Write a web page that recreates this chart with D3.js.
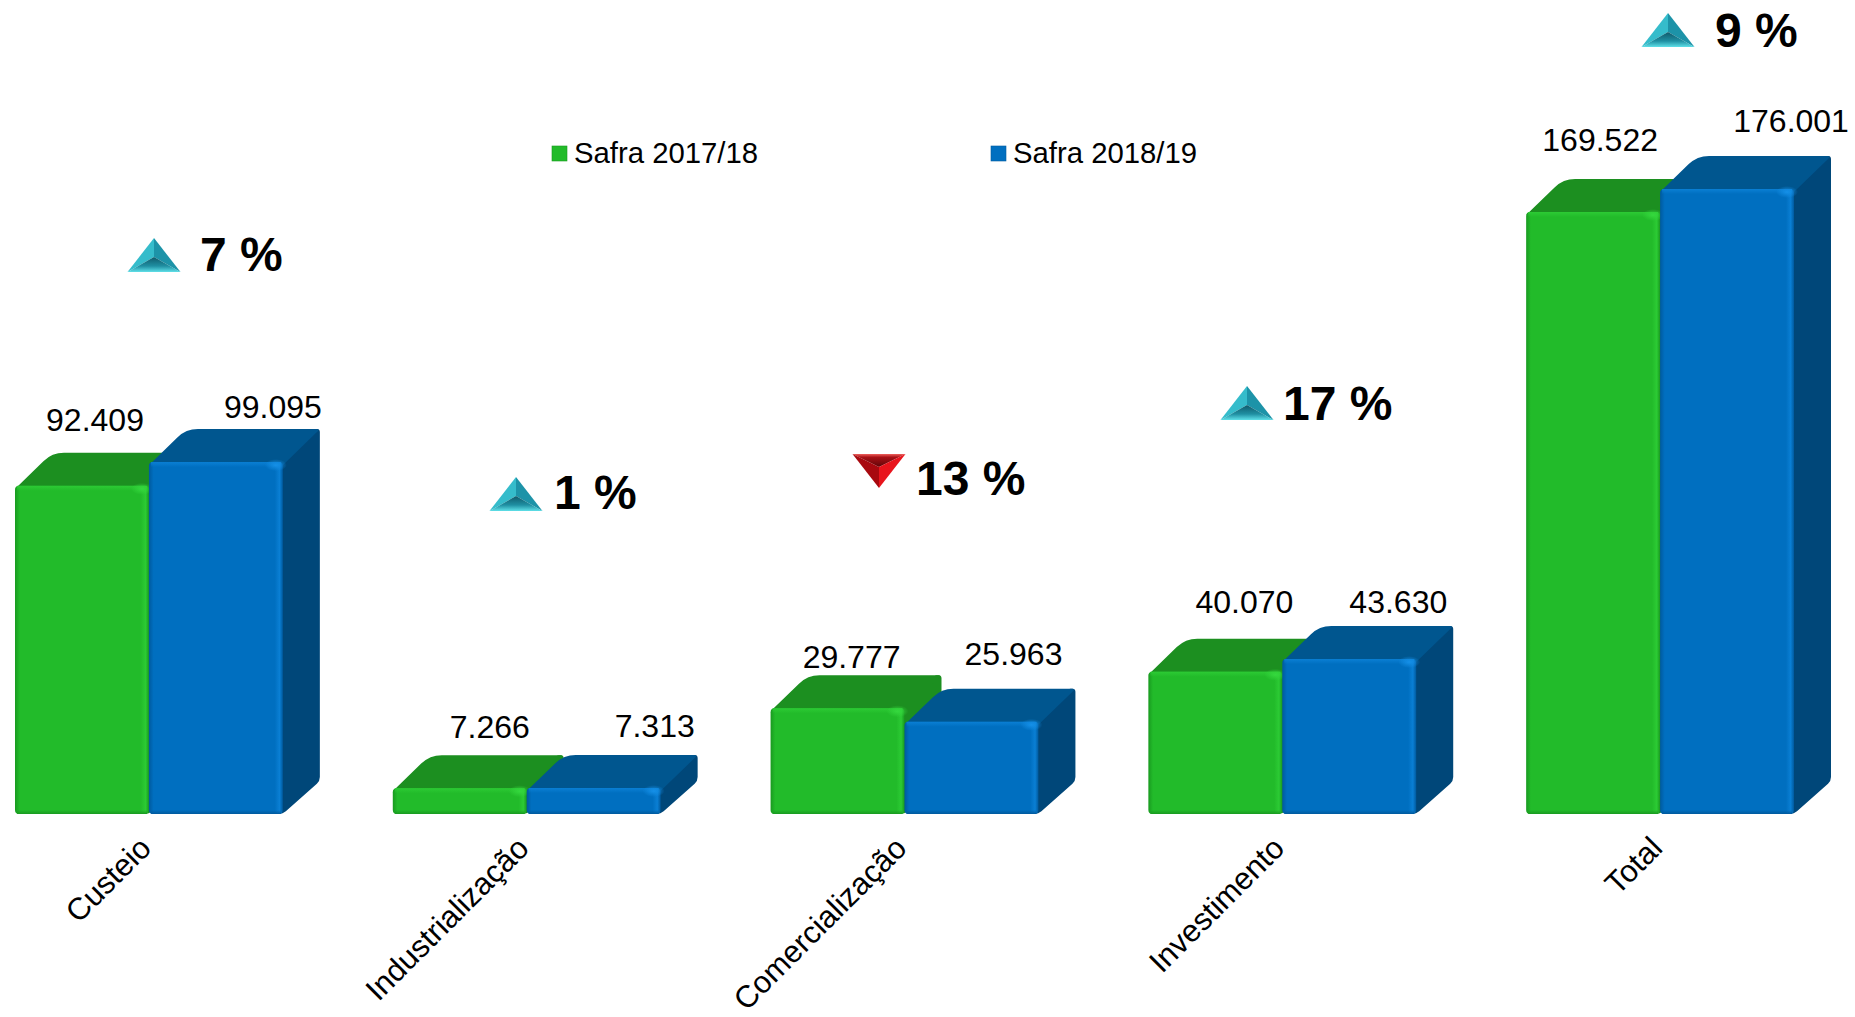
<!DOCTYPE html>
<html lang="pt">
<head>
  <meta charset="UTF-8">
  <title>Safra 2017/18 x 2018/19</title>
  <script src="https://d3js.org/d3.v7.min.js"></script>
  <style>
    html, body { margin: 0; padding: 0; background: #fff; }
    svg { display: block; font-family: "Liberation Sans", Arial, sans-serif; }
  </style>
</head>
<body>
  <div id="chart"></div>
  <script>
    const categories = ["Custeio", "Industrialização", "Comercialização", "Investimento", "Total"];
    const seriesNames = ["Safra 2017/18", "Safra 2018/19"];
    const safra1718 = [92409, 7266, 29777, 40070, 169522];
    const safra1819 = [99095, 7313, 25963, 43630, 176001];
    const changeLabels = ["7 %", "1 %", "13 %", "17 %", "9 %"];
    const changeDirection = ["up", "up", "down", "up", "up"];

    // hand placed annotations, the labels do not sit at a fixed offset from the bars
    const labelShift1718 = [[80, -55], [97, -50], [81, -40], [96, -59], [74, -61]];
    const labelShift1819 = [[124, -44], [128, -51], [109, -57], [116, -46], [131, -57]];
    const changeSpots = [[154, 272], [516, 511], [879, 488], [1247, 420], [1668, 47]];
    const changeTextShift = [[46, -1], [38, -2], [37, 7], [36, 0], [47, 0]];

    const width = 1855, height = 1017;
    const depthX = 37, depthY = 33;

    const palette = [
      {front: "#22bb2a", top: "#1c8f20", side: "#1c8f20", light: "#2ccb34", glow: "#35d83e", dark: "#199a20"},
      {front: "#006fc0", top: "#00568f", side: "#004779", light: "#0a7fd4", glow: "#1590e8", dark: "#005a9e"}
    ];

    const x = d3.scaleBand().domain(categories).range([15, 1794]).paddingInner(0.291).paddingOuter(0);
    const xSeries = d3.scaleBand().domain([0, 1]).range([0, x.bandwidth()]);
    const y = d3.scaleLinear().domain([0, 176001]).range([814, 189]);

    const svg = d3.select("#chart").append("svg").attr("width", width).attr("height", height);
    const defs = svg.append("defs");

    palette.forEach((c, i) => {
      const h = defs.append("linearGradient").attr("id", "front" + i);
      h.append("stop").attr("offset", "0").attr("stop-color", c.dark);
      h.append("stop").attr("offset", "0.035").attr("stop-color", c.front);
      h.append("stop").attr("offset", "0.94").attr("stop-color", c.front);
      h.append("stop").attr("offset", "0.975").attr("stop-color", c.light);
      h.append("stop").attr("offset", "1").attr("stop-color", c.dark);

      const glow = defs.append("linearGradient").attr("id", "glow" + i).attr("x2", 0).attr("y2", 1);
      glow.append("stop").attr("offset", "0").attr("stop-color", c.light);
      glow.append("stop").attr("offset", "1").attr("stop-color", c.light).attr("stop-opacity", 0);

      const corner = defs.append("radialGradient").attr("id", "corner" + i);
      corner.append("stop").attr("offset", "0").attr("stop-color", c.glow);
      corner.append("stop").attr("offset", "1").attr("stop-color", c.glow).attr("stop-opacity", 0);

      const foot = defs.append("linearGradient").attr("id", "foot" + i).attr("x2", 0).attr("y2", 1);
      foot.append("stop").attr("offset", "0").attr("stop-color", c.dark).attr("stop-opacity", 0);
      foot.append("stop").attr("offset", "1").attr("stop-color", c.dark);
    });

    const pyramidBase = defs.append("linearGradient").attr("id", "tealBase").attr("x2", 0).attr("y2", 1);
    pyramidBase.append("stop").attr("offset", "0").attr("stop-color", "#0f5a6b");
    pyramidBase.append("stop").attr("offset", "0.6").attr("stop-color", "#1f8fa2");
    pyramidBase.append("stop").attr("offset", "1").attr("stop-color", "#5fe0e8");

    const pyramidTop = defs.append("linearGradient").attr("id", "redTop").attr("x2", 0).attr("y2", 1);
    pyramidTop.append("stop").attr("offset", "0").attr("stop-color", "#f0605c");
    pyramidTop.append("stop").attr("offset", "0.25").attr("stop-color", "#a81015");
    pyramidTop.append("stop").attr("offset", "1").attr("stop-color", "#5e0508");

    // polygon with each corner cut by a quadratic curve of its own radius
    function roundedPath(points, radii) {
      const n = points.length;
      let d = "";
      points.forEach((p, i) => {
        const prev = points[(i + n - 1) % n], next = points[(i + 1) % n], r = radii[i];
        const toward = (a, b) => {
          const len = Math.hypot(b[0] - a[0], b[1] - a[1]);
          return [a[0] + (b[0] - a[0]) * r / len, a[1] + (b[1] - a[1]) * r / len];
        };
        const a = toward(p, prev), b = toward(p, next);
        d += `${i ? "L" : "M"}${a[0]},${a[1]} Q${p[0]},${p[1]} ${b[0]},${b[1]} `;
      });
      return d + "Z";
    }

    function drawBar(g, left, value, s) {
      const c = palette[s];
      const w = xSeries.bandwidth();
      const top = y(value), base = y(0);
      const right = left + w;

      g.append("path")
        .attr("d", roundedPath(
          [[right - 6, top - 2], [right + depthX - 6, top - depthY], [right + depthX, top - depthY], [right + depthX, base - depthY], [right, base], [right - 6, base]],
          [1, 1, 3, 4, 4, 1]))
        .attr("fill", c.side);
      g.append("path")
        .attr("d", roundedPath(
          [[left, top + 3], [left + depthX, top - depthY], [right + depthX, top - depthY], [right + depthX - 3, top - depthY + 3], [right, top + 3]],
          [1, 12, 3, 1, 1]))
        .attr("fill", c.top);
      g.append("rect")
        .attr("x", left).attr("y", top).attr("width", w).attr("height", base - top).attr("rx", 4)
        .attr("fill", `url(#front${s})`);
      g.append("rect")
        .attr("x", left + 2).attr("y", top).attr("width", w - 4).attr("height", 5)
        .attr("fill", `url(#glow${s})`);
      g.append("ellipse")
        .attr("cx", right - 7).attr("cy", top + 3).attr("rx", 11).attr("ry", 6)
        .attr("fill", `url(#corner${s})`);
      g.append("rect")
        .attr("x", left + 2).attr("y", base - 4).attr("width", w - 4).attr("height", 4)
        .attr("fill", `url(#foot${s})`);
    }

    // green goes first, the blue bars stay in front of the green tops
    [safra1718, safra1819].forEach((values, s) => {
      const g = svg.append("g").attr("class", "series-" + s);
      values.forEach((v, i) => drawBar(g, x(categories[i]) + xSeries(s), v, s));
    });

    [safra1718, safra1819].forEach((values, s) => {
      const shift = s === 0 ? labelShift1718 : labelShift1819;
      svg.append("g").selectAll("text").data(values).join("text")
        .attr("x", (d, i) => x(categories[i]) + xSeries(s) + shift[i][0])
        .attr("y", (d, i) => y(d) + shift[i][1])
        .attr("text-anchor", "middle")
        .attr("font-size", 32)
        .attr("fill", "#000")
        .text(d => d3.format(",")(d).replace(/,/g, "."));
    });

    // category axis
    const axis = svg.append("g")
      .attr("transform", "translate(0,813)")
      .call(d3.axisBottom(x).tickSize(0));
    axis.select(".domain").remove();
    axis.selectAll("text")
      .attr("font-size", 31)
      .attr("font-family", "'Liberation Sans', Arial, sans-serif")
      .attr("fill", "#000")
      .attr("text-anchor", "end")
      .attr("y", 0).attr("dy", 0)
      .attr("transform", "translate(4,37) rotate(-45)");

    // legend
    const legendX = [552, 991];
    const legend = svg.append("g").selectAll("g").data(seriesNames).join("g")
      .attr("transform", (d, i) => `translate(${legendX[i]},146)`);
    legend.append("rect").attr("width", 15).attr("height", 15)
      .attr("fill", (d, i) => palette[i].front)
      .attr("stroke", (d, i) => palette[i].dark).attr("stroke-width", 0.6);
    legend.append("text").attr("x", 22).attr("y", 17).attr("font-size", 29.3).text(d => d);

    // change markers
    const triW = 26.5, triH = 34;
    const marks = svg.append("g").selectAll("g").data(changeLabels).join("g")
      .attr("transform", (d, i) => `translate(${changeSpots[i][0]},${changeSpots[i][1]})`);

    marks.each(function (d, i) {
      const g = d3.select(this);
      if (changeDirection[i] === "up") {
        const inner = [0, -15];
        g.append("path").attr("d", `M0,${-triH} L${-triW},0 L${inner[0]},${inner[1]} Z`).attr("fill", "#35bccb");
        g.append("path").attr("d", `M0,${-triH} L${triW},0 L${inner[0]},${inner[1]} Z`).attr("fill", "#1d93a8");
        g.append("path").attr("d", `M${-triW},0 L${triW},0 L${inner[0]},${inner[1]} Z`).attr("fill", "url(#tealBase)");
      } else {
        const inner = [0, -21];
        g.append("path").attr("d", `M${-triW},${-triH} L${triW},${-triH} L${inner[0]},${inner[1]} Z`).attr("fill", "url(#redTop)");
        g.append("path").attr("d", `M${-triW},${-triH} L0,0 L${inner[0]},${inner[1]} Z`).attr("fill", "#a8090f");
        g.append("path").attr("d", `M${triW},${-triH} L0,0 L${inner[0]},${inner[1]} Z`).attr("fill", "#e8141c");
      }
      g.append("text")
        .attr("x", changeTextShift[i][0]).attr("y", changeTextShift[i][1])
        .attr("font-size", 48).attr("font-weight", "bold").text(d);
    });
  </script>
</body>
</html>
